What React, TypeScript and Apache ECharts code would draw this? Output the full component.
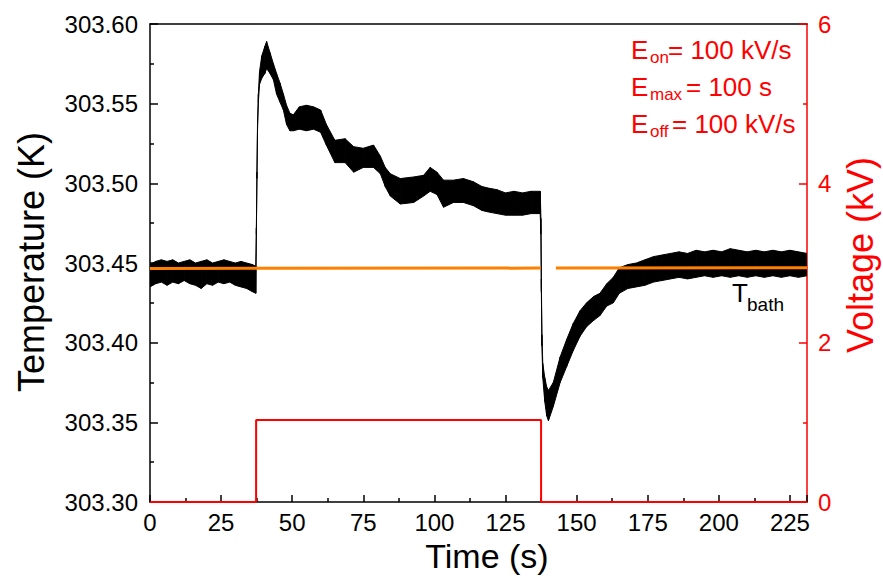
import React, { useEffect, useRef } from "react";
import * as echarts from "echarts";

// Time (s) at which the noisy temperature trace was read
const timeS = [
  0, 2, 4, 6, 8, 10, 12, 14, 16, 18, 20, 22, 24, 26, 28, 30, 32, 34, 36, 37.2,
  37.4, 37.6, 37.8, 38.1, 38.5, 39.3, 40.4, 41.0, 42.2, 43.4, 44.5, 45.7, 46.9, 48.0, 49.2, 50.4,
  52.5, 55.0, 57.5, 60.0, 62.0, 65.0, 68.6, 71.6, 75.0, 78.6, 81.0, 82.7, 84.5, 88.0, 92.7, 96.2,
  98.5, 100.9, 103.2, 106.7, 110.2, 113.7, 116.7, 119, 122, 125, 128, 131, 134, 137.2,
  137.45, 137.6, 137.8, 138.1, 138.8, 139.5, 140.1, 141.8, 144.2, 146.5, 148.8, 151.2, 153.5, 156.0,
  158.2, 160.6, 162.9, 165, 168, 171, 174, 177, 180, 183, 186, 189, 192, 195, 198, 201, 204, 207,
  210, 213, 216, 219, 222, 225, 228, 231,
];
// Lower edge of the noise band (K)
const tempLow = [
  303.435, 303.437, 303.438, 303.436, 303.438, 303.437, 303.439, 303.437, 303.436, 303.434,
  303.437, 303.436, 303.438, 303.437, 303.438, 303.436, 303.435, 303.434, 303.432, 303.431,
  303.468, 303.503, 303.533, 303.551, 303.562, 303.566, 303.569, 303.572, 303.569, 303.565,
  303.556, 303.551, 303.546, 303.537, 303.533, 303.533, 303.534, 303.533, 303.534, 303.532,
  303.524, 303.513, 303.513, 303.507, 303.510, 303.510, 303.506, 303.498, 303.492, 303.487,
  303.488, 303.492, 303.495, 303.493, 303.485, 303.488, 303.488, 303.486, 303.483, 303.482,
  303.481, 303.480, 303.480, 303.480, 303.481, 303.481,
  303.468, 303.432, 303.398, 303.378, 303.363, 303.354, 303.351, 303.360, 303.375, 303.385,
  303.395, 303.404, 303.410, 303.414, 303.417, 303.423, 303.425, 303.431, 303.434, 303.435,
  303.436, 303.438, 303.439, 303.440, 303.441, 303.440, 303.441, 303.442, 303.441, 303.442,
  303.441, 303.442, 303.441, 303.442, 303.441, 303.442, 303.441, 303.442, 303.441, 303.442,
];
// Upper edge of the noise band (K)
const tempHigh = [
  303.449, 303.451, 303.452, 303.451, 303.452, 303.450, 303.451, 303.452, 303.450, 303.451,
  303.452, 303.450, 303.451, 303.452, 303.451, 303.450, 303.451, 303.450, 303.449, 303.448,
  303.472, 303.507, 303.537, 303.556, 303.570, 303.580, 303.586, 303.589, 303.582, 303.575,
  303.569, 303.563, 303.556, 303.549, 303.544, 303.543, 303.548, 303.549, 303.548, 303.546,
  303.537, 303.527, 303.528, 303.523, 303.522, 303.524, 303.517, 303.510, 303.506, 303.503,
  303.504, 303.505, 303.510, 303.507, 303.502, 303.502, 303.503, 303.501, 303.498, 303.497,
  303.496, 303.494, 303.495, 303.494, 303.495, 303.495,
  303.478, 303.440, 303.405, 303.387, 303.378, 303.372, 303.370, 303.375, 303.391, 303.402,
  303.412, 303.420, 303.425, 303.429, 303.431, 303.437, 303.441, 303.447, 303.449, 303.450,
  303.452, 303.454, 303.455, 303.456, 303.457, 303.456, 303.458, 303.457, 303.458, 303.457,
  303.459, 303.458, 303.457, 303.458, 303.457, 303.458, 303.457, 303.458, 303.457, 303.456,
];

// Bath temperature (orange) – two segments with a small gap at the drop
const bathTime = [0, 137.4, null, 142.7, 231];
const bathTemp = [303.4466, 303.4468, null, 303.4468, 303.447];

// Applied voltage (kV)
const voltTime = [0, 37.3, 37.31, 137.5, 137.51, 231];
const voltKV = [0, 0, 1.03, 1.03, 0, 0];

const FONT = "Liberation Sans, Arial, sans-serif";
const RED = "#ff0000";

export default function App() {
  const ref = useRef<HTMLDivElement>(null);

  useEffect(() => {
    if (!ref.current) return;
    const chart = echarts.init(ref.current, undefined, { renderer: "svg" });

    // each item: one quad of the noise band between two neighbouring readings
    const bandData: number[][] = [];
    for (let i = 0; i < timeS.length - 1; i++) {
      bandData.push([timeS[i], tempLow[i], tempHigh[i], timeS[i + 1], tempLow[i + 1], tempHigh[i + 1]]);
    }
    const bathData = bathTime.map((t, i) => (t === null ? [null, null] : [t, bathTemp[i]]));
    const voltData = voltTime.map((t, i) => [t, voltKV[i]]);

    const sub = (x: number, y: number, main: string, s: string, rest: string, sx: number, rx: number) => [
      { type: "text", x, y, style: { text: main, fontSize: 26, fontFamily: FONT, fill: RED, verticalAlign: "middle" } },
      { type: "text", x: sx, y: y + 7, style: { text: s, fontSize: 17, fontFamily: FONT, fill: RED, verticalAlign: "middle" } },
      { type: "text", x: rx, y, style: { text: rest, fontSize: 26, fontFamily: FONT, fill: RED, verticalAlign: "middle" } },
    ];

    chart.setOption({
      animation: false,
      backgroundColor: "#fff",
      grid: { left: 150, right: 76, top: 24, bottom: 76, outerBoundsMode: "none" },
      xAxis: [
        {
          type: "value",
          min: 0,
          max: 231,
          interval: 25,
          position: "bottom",
          axisLine: { show: true, onZero: false, lineStyle: { color: "#000", width: 1.5 } },
          axisTick: { show: true, inside: true, length: 7, lineStyle: { color: "#000", width: 1.5 } },
          minorTick: { show: true, splitNumber: 2, length: 4, lineStyle: { color: "#000", width: 1.5 } },
          axisLabel: { color: "#000", fontSize: 24, fontFamily: FONT, margin: 8, showMaxLabel: false },
          splitLine: { show: false },
        },
        {
          type: "value",
          min: 0,
          max: 231,
          position: "top",
          axisLine: { show: true, onZero: false, lineStyle: { color: "#000", width: 1.5 } },
          axisTick: { show: false },
          axisLabel: { show: false },
          splitLine: { show: false },
        },
      ],
      yAxis: [
        {
          type: "value",
          min: 303.3,
          max: 303.6,
          interval: 0.05,
          position: "left",
          axisLine: { show: true, onZero: false, lineStyle: { color: "#000", width: 1.5 } },
          axisTick: { show: true, inside: true, length: 8, lineStyle: { color: "#000", width: 1.5 } },
          minorTick: { show: true, splitNumber: 2, length: 4, lineStyle: { color: "#000", width: 1.5 } },
          axisLabel: {
            color: "#000",
            fontSize: 24,
            fontFamily: FONT,
            margin: 12,
            formatter: (v: number) => v.toFixed(2),
          },
          splitLine: { show: false },
        },
        {
          type: "value",
          min: 0,
          max: 6,
          interval: 2,
          position: "right",
          axisLine: { show: true, onZero: false, lineStyle: { color: RED, width: 1.5 } },
          axisTick: { show: true, inside: true, length: 8, lineStyle: { color: RED, width: 1.5 } },
          minorTick: { show: true, splitNumber: 2, length: 4, lineStyle: { color: RED, width: 1.5 } },
          axisLabel: { color: RED, fontSize: 24, fontFamily: FONT, margin: 11 },
          splitLine: { show: false },
        },
      ],
      series: [
        {
          name: "temperature",
          type: "custom",
          data: bandData,
          encode: { x: [0, 3], y: [1, 2, 4, 5] },
          clip: true,
          z: 2,
          renderItem: (_params: any, api: any) => {
            const a = api.coord([api.value(0), api.value(1)]);
            const b = api.coord([api.value(3), api.value(4)]);
            const c = api.coord([api.value(3), api.value(5)]);
            const d = api.coord([api.value(0), api.value(2)]);
            return {
              type: "polygon",
              shape: { points: [a, b, c, d] },
              style: { fill: "#000", stroke: "#000", lineWidth: 1 },
            };
          },
        },
        {
          name: "bath",
          type: "line",
          data: bathData,
          symbol: "none",
          connectNulls: false,
          lineStyle: { color: "#ff8000", width: 3 },
          z: 3,
        },
        {
          name: "voltage",
          type: "line",
          yAxisIndex: 1,
          data: voltData,
          symbol: "none",
          lineStyle: { color: RED, width: 2 },
          z: 4,
        },
      ],
      graphic: [
        {
          type: "text",
          x: 31,
          y: 262,
          rotation: Math.PI / 2,
          style: { text: "Temperature (K)", fontSize: 36, fontFamily: FONT, fill: "#000", align: "center", verticalAlign: "middle" },
        },
        {
          type: "text",
          x: 860,
          y: 255,
          rotation: Math.PI / 2,
          style: { text: "Voltage (kV)", fontSize: 36, fontFamily: FONT, fill: RED, align: "center", verticalAlign: "middle" },
        },
        {
          type: "text",
          x: 487,
          y: 556,
          style: { text: "Time (s)", fontSize: 34, fontFamily: FONT, fill: "#000", align: "center", verticalAlign: "middle" },
        },
        ...sub(631, 50, "E", "on", "= 100 kV/s", 650, 668),
        ...sub(631, 87, "E", "max", "= 100 s", 650, 686),
        ...sub(631, 124, "E", "off", "= 100 kV/s", 650, 672),
        { type: "text", x: 732, y: 293, style: { text: "T", fontSize: 26, fontFamily: FONT, fill: "#000", verticalAlign: "middle" } },
        { type: "text", x: 747, y: 304, style: { text: "bath", fontSize: 19, fontFamily: FONT, fill: "#000", verticalAlign: "middle" } },
      ],
    });

    return () => chart.dispose();
  }, []);

  return <div ref={ref} style={{ position: "fixed", left: 0, top: 0, width: 883, height: 578 }} />;
}
